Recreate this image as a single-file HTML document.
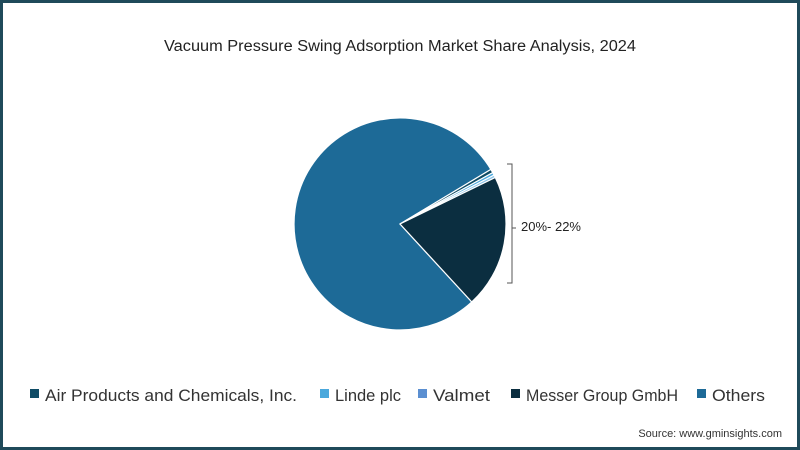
<!DOCTYPE html>
<html><head><style>
body{margin:0;width:800px;height:450px;overflow:hidden;background:#fff;font-family:"Liberation Sans",sans-serif}
.f{position:absolute;left:0;top:0;width:794px;height:444px;border:3px solid #1f4a5a;background:#fff}
</style></head><body><div class="f"></div>
<svg style="position:absolute;left:0;top:0" width="800" height="450">
<text x="164" y="51" textLength="472" lengthAdjust="spacingAndGlyphs" font-size="15.5" fill="#222" font-family="Liberation Sans">Vacuum Pressure Swing Adsorption Market Share Analysis, 2024</text>
<g stroke="#fff" stroke-width="1.2" stroke-linejoin="round">
<path d="M400,224 L471.8,302 A106,106 0 1 1 490.9,169.4 Z" fill="#1d6a97"/>
<path d="M400,224 L490.9,169.4 A106,106 0 0 1 492.7,172.6 Z" fill="#0f4c66"/>
<path d="M400,224 L492.7,172.6 A106,106 0 0 1 494,175.1 Z" fill="#4aa8dc"/>
<path d="M400,224 L494,175.1 A106,106 0 0 1 495.3,177.5 Z" fill="#8cc4e8"/>
<path d="M400,224 L495.3,177.5 A106,106 0 0 1 471.8,302 Z" fill="#0b2e40"/>
</g>
<path d="M507,164 H512 V283 H507 M512,228 H516" fill="none" stroke="#555" stroke-width="1"/>
<text x="521" y="231" font-size="13" fill="#222">20%- 22%</text>
<g font-size="17" fill="#333">
<rect x="30" y="389" width="9" height="9" fill="#0f4c66"/><text x="45" y="401" textLength="252" lengthAdjust="spacingAndGlyphs">Air Products and Chemicals, Inc.</text>
<rect x="320" y="389" width="9" height="9" fill="#4aa8dc"/><text x="335" y="401" textLength="66" lengthAdjust="spacingAndGlyphs">Linde plc</text>
<rect x="418" y="389" width="9" height="9" fill="#5b8fd1"/><text x="433" y="401" textLength="57" lengthAdjust="spacingAndGlyphs">Valmet</text>
<rect x="511" y="389" width="9" height="9" fill="#0b2e40"/><text x="526" y="401" textLength="152" lengthAdjust="spacingAndGlyphs">Messer Group GmbH</text>
<rect x="697" y="389" width="9" height="9" fill="#1d6a97"/><text x="712" y="401" textLength="53" lengthAdjust="spacingAndGlyphs">Others</text>
</g>
<text x="782" y="437" text-anchor="end" font-size="11" fill="#333">Source: www.gminsights.com</text>
</svg></body></html>
